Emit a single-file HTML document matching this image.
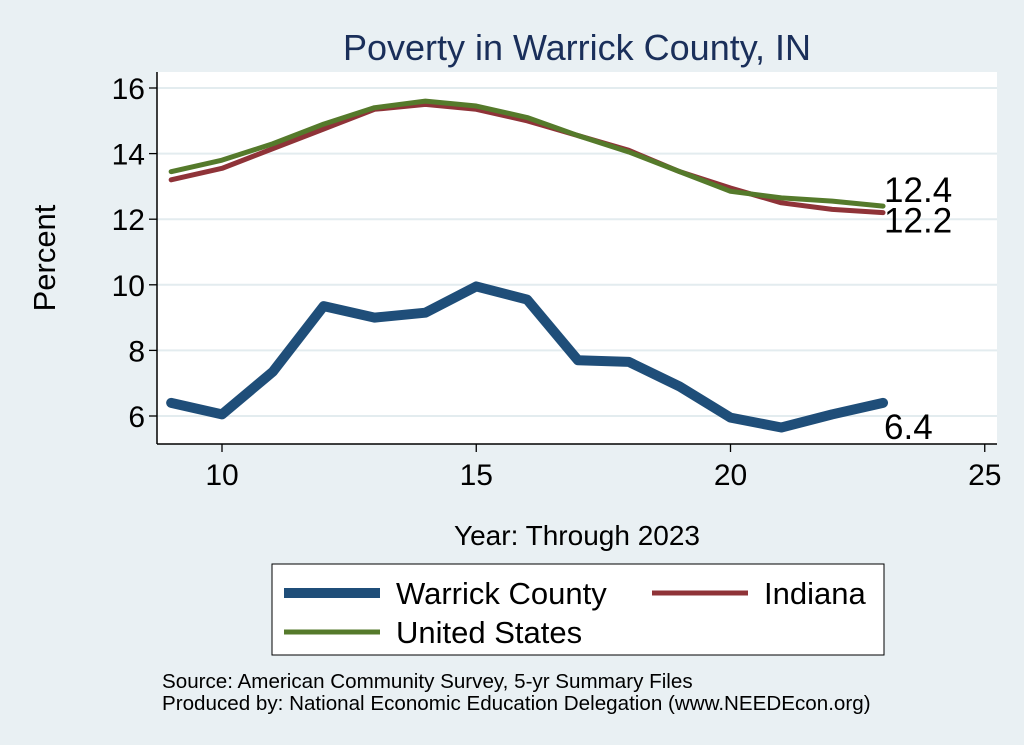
<!DOCTYPE html>
<html><head><meta charset="utf-8"><style>
body{margin:0;background:#e9f0f3;}
svg{display:block;font-family:"Liberation Sans",Arial,sans-serif;}
</style></head><body>
<svg id="chart" width="1024" height="745" viewBox="0 0 1024 745">
<rect x="0" y="0" width="1024" height="745" fill="#e9f0f3"/>
<text x="577" y="60" font-size="36" fill="#1a2f5a" text-anchor="middle">Poverty in Warrick County, IN</text>
<rect x="157" y="72" width="840" height="372" fill="#fff"/>
<g id="grid"></g><g id="axes"></g><g id="series"></g>
<text x="55" y="258" font-size="31" transform="rotate(-90 55 258)" text-anchor="middle">Percent</text>
<text x="577" y="545" font-size="28" text-anchor="middle">Year: Through 2023</text>
<rect x="272" y="564" width="612" height="91" fill="#fff" stroke="#000" stroke-width="1"/>
<g><line x1="284" y1="593" x2="380" y2="593" stroke="#1f4e79" stroke-width="10"/><text x="396" y="604" font-size="31">Warrick County</text></g>
<g><line x1="652" y1="593" x2="748" y2="593" stroke="#8f3338" stroke-width="5"/><text x="764" y="604" font-size="31">Indiana</text></g>
<g><line x1="284" y1="632" x2="380" y2="632" stroke="#557a2b" stroke-width="5"/><text x="396" y="643" font-size="31">United States</text></g>
<text x="162" y="688" font-size="20.6">Source: American Community Survey, 5-yr Summary Files</text>
<text x="162" y="710" font-size="20.6">Produced by: National Economic Education Delegation (www.NEEDEcon.org)</text>
</svg>
<script>
const years=[9,10,11,12,13,14,15,16,17,18,19,20,21,22,23];
const warrick=[6.4,6.05,7.35,9.35,9.0,9.15,9.95,9.55,7.7,7.65,6.9,5.95,5.65,6.05,6.4];
const indiana=[13.2,13.55,14.15,14.75,15.35,15.5,15.35,15.0,14.55,14.1,13.45,12.95,12.5,12.3,12.2];
const us=[13.45,13.8,14.3,14.9,15.4,15.6,15.45,15.1,14.55,14.05,13.45,12.85,12.65,12.55,12.4];
const xTicks=[10,15,20,25];
const yTicks=[6,8,10,12,14,16];
const NS='http://www.w3.org/2000/svg';
const xs=v=>222+(v-10)*50.85;
const ys=v=>416-(v-6)*32.8;
function mk(tag,attrs,parent){const e=document.createElementNS(NS,tag);for(const k in attrs)e.setAttribute(k,attrs[k]);document.getElementById(parent).appendChild(e);return e;}
yTicks.forEach(t=>{
 const g=mk('line',{x1:157,x2:997,y1:ys(t),y2:ys(t),stroke:'#e3ecef','stroke-width':2},'grid');
 
 
 mk('line',{x1:149,x2:157,y1:ys(t),y2:ys(t),stroke:'#000','stroke-width':1.3},'axes');
 const tx=mk('text',{x:145,y:ys(t)+11,'font-size':30,'text-anchor':'end'},'axes');tx.textContent=t;
 
 
});
xTicks.forEach(t=>{
 mk('line',{x1:xs(t),x2:xs(t),y1:444,y2:452,stroke:'#000','stroke-width':1.3},'axes');
 const tx=mk('text',{x:xs(t),y:485,'font-size':30,'text-anchor':'middle'},'axes');tx.textContent=t;
 
 
});
mk('line',{x1:157,x2:157,y1:72,y2:444,stroke:'#000','stroke-width':1.5},'axes');
mk('line',{x1:157,x2:997,y1:444,y2:444,stroke:'#000','stroke-width':1.5},'axes');
function line(vals,color,w,name){
 const p=mk('polyline',{points:years.map((y,i)=>xs(y)+','+ys(vals[i])).join(' '),fill:'none',stroke:color,'stroke-width':w,'stroke-linejoin':'round','stroke-linecap':'round'},'series');
 
 
}
line(indiana,'#8f3338',5,'indiana-line');
line(us,'#557a2b',5,'us-line');
line(warrick,'#1f4e79',10,'warrick-line');
const last=years.length-1;
function lab(v,dy,name){const t=mk('text',{x:xs(years[last])+1,y:ys(v)+dy,'font-size':35},'series');t.textContent=v.toFixed(1);
 
 }
lab(us[last],-4,'us-end-label');
lab(indiana[last],20,'indiana-end-label');
lab(warrick[last],36,'warrick-end-label');
</script>
</body></html>
